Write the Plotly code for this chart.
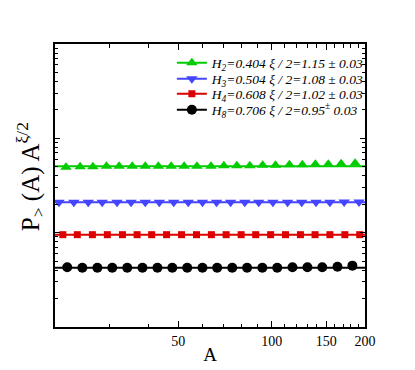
import plotly.graph_objects as go

# ---- data ----
x_h2 = [21.7, 24.1, 26.5, 29.3, 32.2, 35.5, 39.1, 43.1, 47.4, 52.2, 57.4, 63.7,
        70.1, 77.2, 85.0, 93.5, 102.9, 114.1, 125.6, 138.3, 152.2, 167.5, 185.8]
y_h2 = [4.93, 4.99, 4.99, 5.05, 5.05, 5.05, 5.05, 5.05, 5.05, 5.05, 5.05, 5.05,
        5.11, 5.11, 5.11, 5.17, 5.17, 5.24, 5.24, 5.30, 5.30, 5.37, 5.43]

x_h3 = [20.6, 23.0, 25.6, 28.4, 31.7, 35.2, 39.1, 43.4, 48.3, 53.8, 59.8, 66.4,
        73.7, 81.9, 90.8, 100.9, 112.5, 125.0, 139.0, 154.1, 171.3, 191.3]
y_h3 = [2.10, 2.10, 2.10, 2.10, 2.10, 2.10, 2.10, 2.10, 2.10, 2.10, 2.10, 2.10,
        2.10, 2.10, 2.10, 2.10, 2.10, 2.10, 2.10, 2.10, 2.11, 2.12]

x_h4 = [21.2, 23.6, 26.4, 29.5, 33.0, 36.8, 41.0, 45.8, 51.2, 57.2, 63.9, 71.3,
        79.7, 88.8, 99.2, 110.8, 123.8, 138.0, 154.1, 172.2, 192.3]
y_h4 = [0.952, 0.952, 0.952, 0.952, 0.952, 0.952, 0.952, 0.952, 0.952, 0.952, 0.952,
        0.952, 0.952, 0.952, 0.952, 0.952, 0.952, 0.952, 0.952, 0.952, 0.952]

x_h8 = [21.9, 24.5, 27.4, 30.6, 34.2, 38.3, 42.8, 47.8, 53.4, 59.8, 66.7, 74.6,
        83.3, 93.3, 104.2, 116.7, 130.4, 145.6, 163.0, 182.1]
y_h8 = [0.43, 0.425, 0.425, 0.425, 0.425, 0.425, 0.425, 0.425, 0.425, 0.425,
        0.425, 0.425, 0.425, 0.425, 0.425, 0.43, 0.43, 0.43, 0.435, 0.447]

fit_x = [20, 200]
fit_levels = [5.05, 2.10, 0.952, 0.425]

labels = [
    "H<sub>2</sub>=0.404 ξ / 2=1.15 ± 0.03",
    "H<sub>3</sub>=0.504 ξ / 2=1.08 ± 0.03",
    "H<sub>4</sub>=0.608 ξ / 2=1.02 ± 0.03",
    "H<sub>8</sub>=0.706 ξ / 2=0.95<sup>±</sup> 0.03",
]
colors = ["#00cc00", "#4545ff", "#dd0000", "#000000"]
symbols = ["triangle-up", "triangle-down", "square", "circle"]
sizes = [10, 10, 7, 10]

x_tickvals = [50, 100, 150, 200]
x_ticktext = ["50", "100", "150", "200"]
x_minor = [30, 40, 60, 70, 80, 90, 110, 120, 130, 140, 160, 170, 180, 190]
y_major = [0.1, 1, 10, 100]
y_minor = [v * m for v in [0.1, 1, 10] for m in range(2, 10)]

series = [(x_h2, y_h2), (x_h3, y_h3), (x_h4, y_h4), (x_h8, y_h8)]
legend_ids = ["legend", "legend2", "legend3", "legend4"]
legend_rows = [0.933, 0.876, 0.823, 0.767]

serif = "Liberation Serif, Times New Roman, serif"

fig = go.Figure()
for (xs, ys), lab, col, sym, sz, lvl, lid in zip(series, labels, colors, symbols,
                                                 sizes, fit_levels, legend_ids):
    fig.add_trace(go.Scatter(x=fit_x, y=[lvl, lvl], mode="lines",
                             line=dict(color=col, width=2), showlegend=False,
                             hoverinfo="skip"))
    fig.add_trace(go.Scatter(x=xs, y=ys, mode="markers", name=lab,
                             marker=dict(symbol=sym, size=sz, color=col,
                                         line=dict(width=0)),
                             showlegend=False))
    fig.add_trace(go.Scatter(x=[None], y=[None], mode="lines+markers", name=lab,
                             line=dict(color=col, width=2),
                             marker=dict(symbol=sym, size=sz, color=col),
                             legend=lid))

legend_layout = {}
for lid, ry in zip(legend_ids, legend_rows):
    legend_layout[lid] = dict(x=0.377, y=ry, xanchor="left", yanchor="middle",
                              bgcolor="rgba(0,0,0,0)", borderwidth=0,
                              font=dict(family=serif, size=13.5, style="italic"),
                              itemwidth=30)

fig.update_layout(
    width=407, height=362,
    margin=dict(l=47, r=50, t=36, b=43, autoexpand=False),
    paper_bgcolor="white", plot_bgcolor="white",
    font=dict(family=serif, color="black", size=14),
    xaxis=dict(type="log", range=[1.301, 2.301], automargin=False,
               tickvals=x_tickvals, ticktext=x_ticktext,
               ticks="inside", ticklen=6, tickwidth=1.3, tickcolor="black",
               minor=dict(tickvals=x_minor, ticks="inside", ticklen=3.5,
                          tickcolor="black", tickwidth=1, showgrid=False),
               showline=True, linecolor="black", linewidth=2, mirror="ticks",
               showgrid=False, zeroline=False,
               tickfont=dict(family=serif, size=14),
               title=dict(text="A", font=dict(family=serif, size=19), standoff=0)),
    yaxis=dict(type="log", range=[-1, 2], automargin=False,
               tickvals=y_major, showticklabels=False,
               ticks="inside", ticklen=5, tickwidth=1.3, tickcolor="black",
               minor=dict(tickvals=y_minor, ticks="inside", ticklen=3,
                          tickcolor="black", tickwidth=1, showgrid=False),
               showline=True, linecolor="black", linewidth=2, mirror="ticks",
               showgrid=False, zeroline=False),
    annotations=[dict(text="P<sub>></sub> (A) A<sup>ξ/2</sup>",
                      xref="paper", yref="paper", x=-0.08, y=0.53,
                      xanchor="center", yanchor="middle",
                      textangle=-90, showarrow=False,
                      font=dict(family=serif, size=25, color="black"))],
    **legend_layout,
)

fig.write_html("out.html")
